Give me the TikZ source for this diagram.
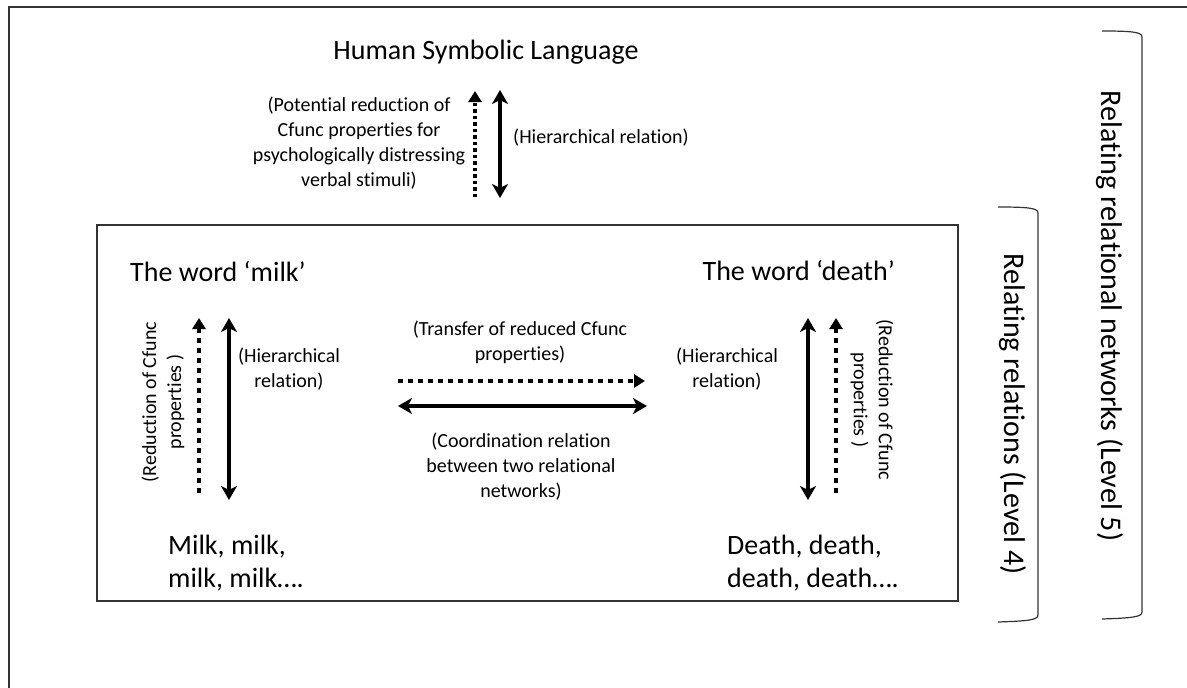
\documentclass[tikz,border=0pt]{standalone}
\usepackage{fontspec}
\setmainfont{Carlito}[Ligatures=NoCommon]
\usetikzlibrary{arrows.meta}
\begin{document}
\begin{tikzpicture}[x=1pt,y=-1pt,
  small/.style={font=\fontsize{20}{25}\selectfont, align=center, inner sep=0pt},
  big/.style={font=\fontsize{28}{33}\selectfont, align=left, inner sep=0pt},
  vlabel/.style={font=\fontsize{30}{34}\selectfont, inner sep=0pt, rotate=-90},
  solidarr/.style={line width=3.5pt, {Stealth[length=14pt,width=16pt,inset=4pt]}-{Stealth[length=14pt,width=16pt,inset=4pt]}},
  dotarr/.style={line width=4pt, dash pattern=on 4pt off 4pt, -{Triangle[length=11pt,width=13pt]}},
  framel/.style={line width=1.2pt, draw=black!80},
  bracket/.style={line width=1.2pt, draw=black!80}]
\useasboundingbox (0,0) rectangle (1187,688);
% outer frame (cropped)
\draw[framel] (9,688) -- (9,7) -- (1187,7);
% inner box
\node[framel, draw, minimum width=861pt, minimum height=376pt, inner sep=0pt] (box) at (527.5,413) {};
% top part
\node[font=\fontsize{28}{30}\selectfont, inner sep=0pt] (hsl) at (486,52) {Human Symbolic Language};
\node[small] (pot) at (359,143) {(Potential reduction of\\Cfunc properties for\\psychologically distressing\\verbal stimuli)};
\coordinate (tdA) at (475,197); \coordinate (tdB) at (475,91);
\draw[dotarr, line width=3.5pt, dash pattern=on 3.5pt off 3pt] (tdA) -- (tdB);
\coordinate (tsA) at (500,90); \coordinate (tsB) at (500,198);
\draw[solidarr] (tsA) -- (tsB);
\node[small, anchor=west] (hr0) at (513,138) {(Hierarchical relation)};
% milk side
\node[big, anchor=west] (wmilk) at (130,271) {The word ‘milk’};
\node[big, anchor=west] (milks) at (168,563) {Milk, milk,\\milk, milk….};
\node[small, rotate=90] (redm) at (163,402) {(Reduction of Cfunc\\properties )};
\coordinate (mdA) at (199,493); \coordinate (mdB) at (199,318);
\draw[dotarr, dash pattern=on 5pt off 5pt] (mdA) -- (mdB);
\coordinate (msA) at (229,318); \coordinate (msB) at (229,500);
\draw[solidarr] (msA) -- (msB);
\node[small] (hrm) at (289,369) {(Hierarchical\\relation)};
% middle
\node[small] (trans) at (520,342) {(Transfer of reduced Cfunc\\properties)};
\coordinate (hdA) at (398,381); \coordinate (hdB) at (645,381);
\draw[dotarr, dash pattern=on 5pt off 5pt] (hdA) -- (hdB);
\coordinate (hsA) at (398,406); \coordinate (hsB) at (647,406);
\draw[solidarr] (hsA) -- (hsB);
\node[small] (coord) at (521,467) {(Coordination relation\\between two relational\\networks)};
% death side
\node[big, anchor=east] (wdeath) at (895,271) {The word ‘death’};
\node[big, anchor=west] (deaths) at (727,563) {Death, death,\\death, death….};
\node[small] (hrd) at (727,369) {(Hierarchical\\relation)};
\coordinate (dsA) at (808,318); \coordinate (dsB) at (808,500);
\draw[solidarr] (dsA) -- (dsB);
\coordinate (ddA) at (836,493); \coordinate (ddB) at (836,318);
\draw[dotarr, dash pattern=on 5pt off 5pt] (ddA) -- (ddB);
\node[small, rotate=-90] (redd) at (872,400) {(Reduction of Cfunc\\properties )};
% level labels and brackets
\node[vlabel] (l4) at (1013,414) {Relating relations (Level 4)};
\draw[bracket] (998,207) .. controls (1028,207) and (1038,208) .. (1038,213) -- (1038,615) .. controls (1038,620) and (1028,621) .. (998,622);
\node[vlabel] (l5) at (1110,316) {Relating relational networks (Level 5)};
\draw[bracket] (1102,31) .. controls (1132,31) and (1142,32) .. (1142,37) -- (1142,612) .. controls (1142,617) and (1132,618) .. (1102,619);
\end{tikzpicture}
\end{document}
